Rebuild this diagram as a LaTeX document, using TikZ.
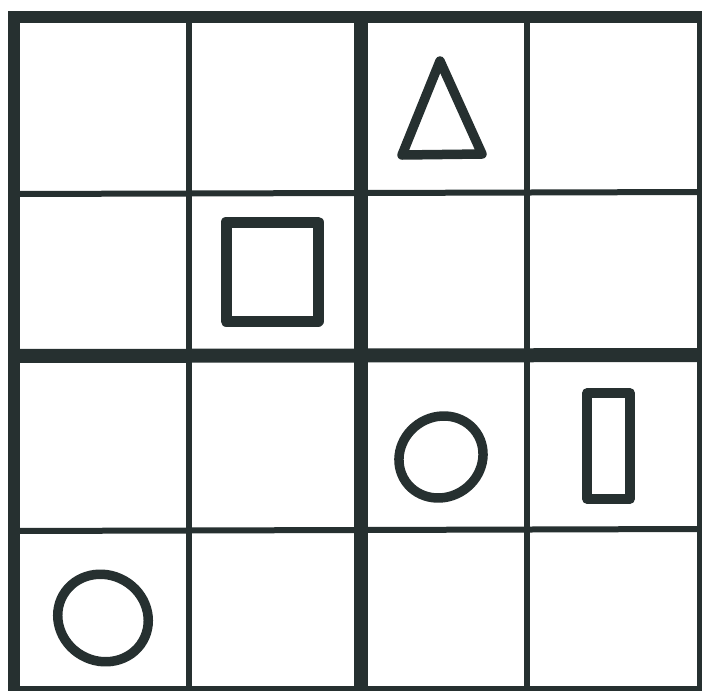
\documentclass[tikz,border=0pt]{standalone}
\usepackage{tikz}
\definecolor{ink}{RGB}{38,48,48}
\tikzset{
  frameline/.style={draw=ink,line width=12pt},
  thinline/.style={draw=ink,line width=6pt},
  thickline/.style={draw=ink,line width=14pt},
  figure/.style={draw=ink,line width=9.5pt,line join=round,line cap=round}
}
\begin{document}
\begin{tikzpicture}[x=1pt,y=-1pt]
\useasboundingbox (0,0) rectangle (702,691);
% grid
\draw[thinline] (189,17)--(189,691);
\draw[thinline] (527,17)--(527,691);
\draw[thinline] (14,194)--(702,192);
\draw[thinline] (14,531)--(702,529);
\draw[thickline] (361,17)--(361,691);
\draw[thickline] (14,356)--(702,355);
\draw[frameline] (14,17) rectangle (703,692);
% shapes
\draw[figure] (440,61)--(482,154)--(402,155)--cycle;
\draw[figure,line width=11pt] (226,222) rectangle (318,321);
\draw[figure,rotate around={35:(441,457)}] (441,457) ellipse [x radius=43,y radius=40];
\draw[figure] (587,393) rectangle (630,499);
\draw[figure,rotate around={-30:(103,618)}] (103,618) ellipse [x radius=46,y radius=43];
\end{tikzpicture}
\end{document}
